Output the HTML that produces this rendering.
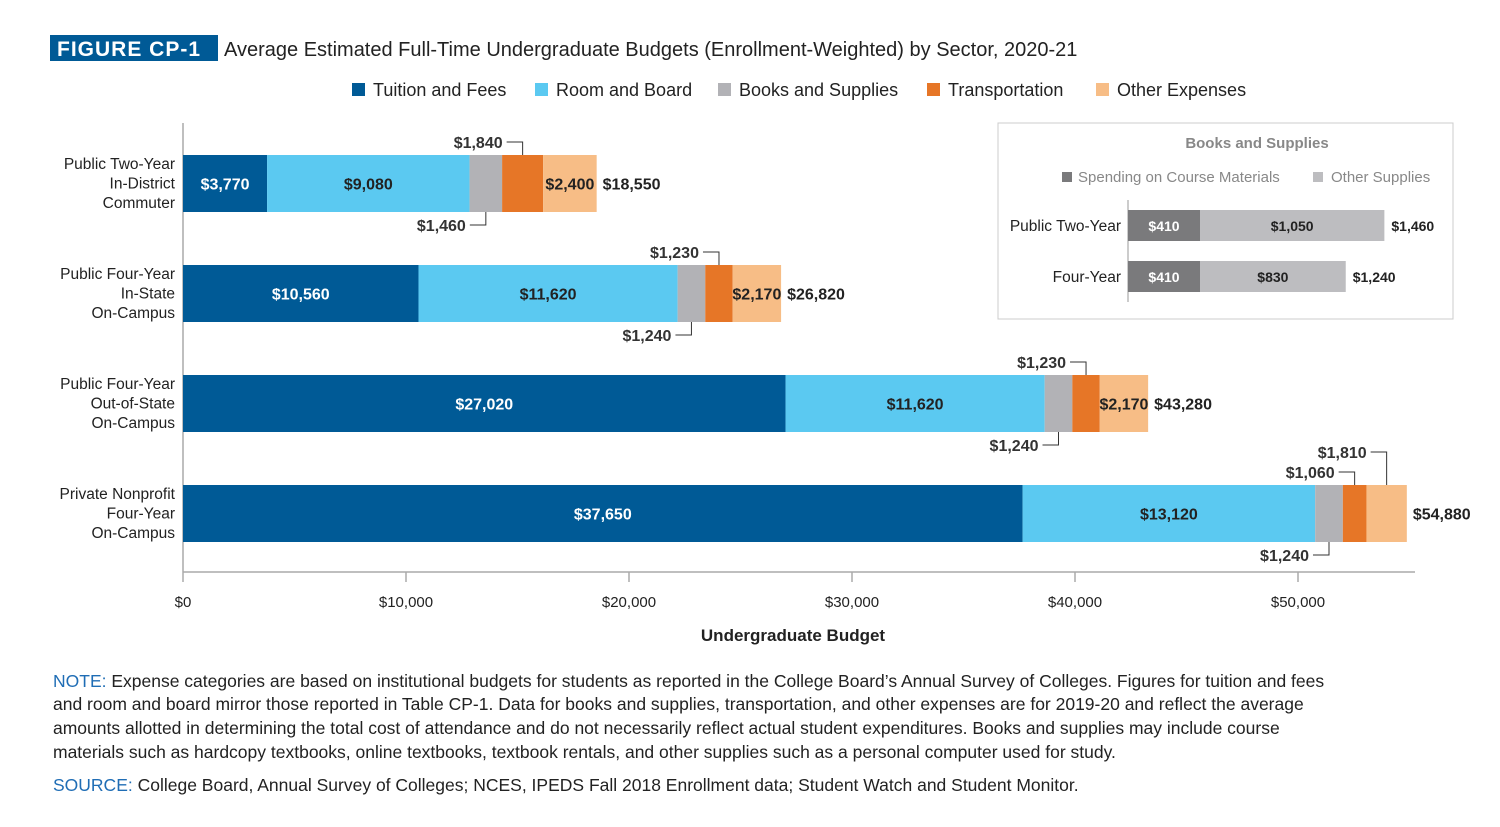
<!DOCTYPE html>
<html><head><meta charset="utf-8"><style>
body{margin:0;background:#fff;width:1500px;height:827px;overflow:hidden;font-family:"Liberation Sans",sans-serif}
svg{display:block}
</style></head><body>
<svg id="c" width="1500" height="827" xmlns="http://www.w3.org/2000/svg">
<rect x="50" y="35" width="168" height="26" fill="#005a96"/>
<text x="57" y="56" fill="#fff" font-size="21" font-weight="bold" letter-spacing="1">FIGURE CP-1</text>
<text x="224" y="56" fill="#222" font-size="20">Average Estimated Full-Time Undergraduate Budgets (Enrollment-Weighted) by Sector, 2020-21</text>
<g id="legend"></g>
<line x1="183" y1="123" x2="183" y2="572" stroke="#aaa" stroke-width="1.5"/>
<line x1="183" y1="572" x2="1415" y2="572" stroke="#aaa" stroke-width="1.5"/>
<g id="ticks"></g>
<g id="bars"></g>
<text x="793" y="641" text-anchor="middle" font-size="17" font-weight="bold" fill="#222">Undergraduate Budget</text>
<rect x="998" y="123" width="455" height="196" fill="#fff" stroke="#ccc"/>
<text x="1257" y="148" text-anchor="middle" font-size="15" font-weight="bold" fill="#888">Books and Supplies</text>
<rect x="1062" y="172" width="10" height="10" fill="#7a7a7c"/>
<text x="1078" y="182" font-size="15" fill="#888">Spending on Course Materials</text>
<rect x="1313" y="172" width="10" height="10" fill="#bdbdc0"/>
<text x="1331" y="182" font-size="15" fill="#888">Other Supplies</text>
<line x1="1128" y1="200" x2="1128" y2="302" stroke="#999"/>
<g id="inset"></g>
<g font-size="17.5" fill="#222">
<text x="53" y="687"><tspan fill="#1f6db5">NOTE:</tspan> Expense categories are based on institutional budgets for students as reported in the College Board’s Annual Survey of Colleges. Figures for tuition and fees</text>
<text x="53" y="710">and room and board mirror those reported in Table CP-1. Data for books and supplies, transportation, and other expenses are for 2019-20 and reflect the average</text>
<text x="53" y="734">amounts allotted in determining the total cost of attendance and do not necessarily reflect actual student expenditures. Books and supplies may include course</text>
<text x="53" y="758">materials such as hardcopy textbooks, online textbooks, textbook rentals, and other supplies such as a personal computer used for study.</text>
<text x="53" y="791"><tspan fill="#1f6db5">SOURCE:</tspan> College Board, Annual Survey of Colleges; NCES, IPEDS Fall 2018 Enrollment data; Student Watch and Student Monitor.</text>
</g>
</svg>
<script>
const categories = [["Public Two-Year","In-District","Commuter"],["Public Four-Year","In-State","On-Campus"],["Public Four-Year","Out-of-State","On-Campus"],["Private Nonprofit","Four-Year","On-Campus"]];
const seriesNames = ["Tuition and Fees","Room and Board","Books and Supplies","Transportation","Other Expenses"];
const tuition = [3770,10560,27020,37650];
const room = [9080,11620,11620,13120];
const books = [1460,1240,1240,1240];
const transport = [1840,1230,1230,1060];
const other = [2400,2170,2170,1810];
const tickValues = [0,10000,20000,30000,40000,50000];
const insetCats = ["Public Two-Year","Four-Year"];
const insetCourse = [410,410];
const insetOther = [1050,830];

const NS="http://www.w3.org/2000/svg";
const colors=["#005a96","#5bc9f1","#b2b2b6","#e67627","#f7bd86"];
const X=v=>183+v*1115/50000;
const rowY=i=>155+i*110, BH=57;
const fmt=v=>"$"+v.toLocaleString("en-US");
function mk(tag,attrs,parent,txt){const e=document.createElementNS(NS,tag);for(const k in attrs)e.setAttribute(k,attrs[k]);if(txt!=null)e.textContent=txt;parent.appendChild(e);return e;}

const lg=document.getElementById("legend");
const lx=[352,535,718,927,1096];
seriesNames.forEach((n,i)=>{
  const r=mk("rect",{x:lx[i],y:83,width:13,height:13,fill:colors[i]},lg);
  
  
  const t=mk("text",{x:lx[i]+21,y:96,"font-size":18,fill:"#222"},lg,n);
  
  
});

const tg=document.getElementById("ticks");
tickValues.forEach(v=>{
  const l=mk("line",{x1:X(v),y1:572,x2:X(v),y2:582,stroke:"#aaa","stroke-width":1.5},tg);
  
  
  const t=mk("text",{x:X(v),y:607,"text-anchor":"middle","font-size":15,fill:"#222"},tg,"$"+v.toLocaleString("en-US"));
  
  
});

const bg=document.getElementById("bars");
function callout(x,y,above,label){
  // x: segment centre, y: bar edge
  const ly=above?y-13:y+13;
  const p=mk("path",{d:`M${x},${y} V${ly} H${x-16}`,fill:"none",stroke:"#333","stroke-width":1},bg);
  
  
  const t=mk("text",{x:x-20,y:ly+6,"text-anchor":"end","font-size":16,"font-weight":"bold",fill:"#333"},bg,label);
  
  
}
categories.forEach((cat,i)=>{
  const y=rowY(i);
  cat.forEach((s,j)=>{
    const t=mk("text",{x:175,y:y+14+j*19.5,"text-anchor":"end","font-size":15.5,fill:"#222"},bg,s);
    
    
  });
  const vals=[tuition[i],room[i],books[i],transport[i],other[i]];
  let acc=0;const xs=[];
  vals.forEach((v,k)=>{
    const x0=X(acc),x1=X(acc+v);xs.push([x0,x1]);
    const r=mk("rect",{x:x0,y:y,width:x1-x0,height:BH,fill:colors[k]},bg);
    
    
    acc+=v;
  });
  [0,1].forEach(k=>{
    const t=mk("text",{x:(xs[k][0]+xs[k][1])/2,y:y+BH/2+6,"text-anchor":"middle","font-size":16,"font-weight":"bold",fill:k==0?"#fff":"#222"},bg,fmt(vals[k]));
    
    
  });
  callout((xs[2][0]+xs[2][1])/2,y+BH,false,fmt(vals[2]));
  callout((xs[3][0]+xs[3][1])/2,y,true,fmt(vals[3]));
  if(i<3){
    const t=mk("text",{x:(xs[4][0]+xs[4][1])/2,y:y+BH/2+6,"text-anchor":"middle","font-size":16,"font-weight":"bold",fill:"#222"},bg,fmt(vals[4]));
    
    
  } else {
    const cx=(xs[4][0]+xs[4][1])/2;
    const p=mk("path",{d:`M${cx},${y} V${y-33} H${cx-16}`,fill:"none",stroke:"#333"},bg);
    
    
    const t=mk("text",{x:cx-20,y:y-27,"text-anchor":"end","font-size":16,"font-weight":"bold",fill:"#333"},bg,fmt(vals[4]));
    
    
  }
  const tt=mk("text",{x:X(acc)+6,y:y+BH/2+6,"font-size":16,"font-weight":"bold",fill:"#222"},bg,fmt(acc));
  
  
});

const ig=document.getElementById("inset");
const IX=v=>1128+v*0.1756;
insetCats.forEach((c,i)=>{
  const y=210+i*51,h=31;
  const t=mk("text",{x:1121,y:y+21,"text-anchor":"end","font-size":15.5,fill:"#222"},ig,c);
  
  
  const a=insetCourse[i],b=insetOther[i];
  const r1=mk("rect",{x:IX(0),y:y,width:IX(a)-IX(0),height:h,fill:"#7a7a7c"},ig);
  
  
  const r2=mk("rect",{x:IX(a),y:y,width:IX(a+b)-IX(a),height:h,fill:"#bdbdc0"},ig);
  
  
  const t1=mk("text",{x:(IX(0)+IX(a))/2,y:y+21,"text-anchor":"middle","font-size":14,"font-weight":"bold",fill:"#fff"},ig,fmt(a));
  
  
  const t2=mk("text",{x:(IX(a)+IX(a+b))/2,y:y+21,"text-anchor":"middle","font-size":14,"font-weight":"bold",fill:"#222"},ig,fmt(b));
  
  
  const t3=mk("text",{x:IX(a+b)+7,y:y+21,"font-size":14,"font-weight":"bold",fill:"#222"},ig,fmt(a+b));
  
  
});
</script>
</body></html>
